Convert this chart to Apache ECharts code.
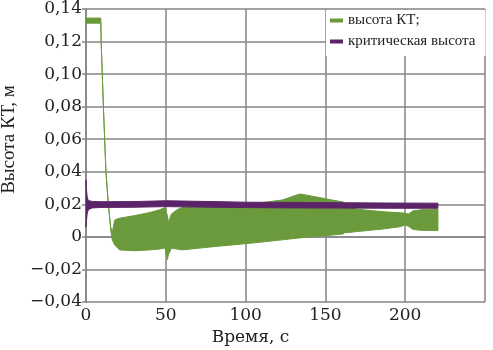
<!DOCTYPE html>
<html>
<head>
<meta charset="utf-8">
<script src="https://cdn.jsdelivr.net/npm/echarts@6/dist/echarts.min.js"></script>
<style>
  html, body { margin: 0; padding: 0; background: #fff; }
  #chart { width: 493px; height: 350px; }
</style>
</head>
<body>
<div id="chart"></div>
<script>
// время, с — огибающие колебаний высоты КТ
const greenTime  = [0, 9.3, 9.5, 10.9, 12.5, 14, 15.5, 16.5, 18, 21, 30, 40, 46, 49.5, 51, 51.6, 53.5, 57, 60, 70, 80, 96.5, 110, 123, 134, 144.5, 155, 161, 162, 164.5, 170, 186, 197, 200, 202, 205, 211, 216, 220.5]
const greenUpper = [0.1344, 0.1344, 0.120, 0.080, 0.040, 0.020, 0.006, 0.003, 0.0104, 0.0115, 0.013, 0.015, 0.0166, 0.018, 0.013, 0.009, 0.014, 0.0166, 0.018, 0.0185, 0.019, 0.0207, 0.021, 0.0227, 0.0264, 0.0245, 0.0225, 0.0215, 0.021, 0.019, 0.017, 0.0155, 0.0148, 0.0146, 0.0140, 0.016, 0.0168, 0.017, 0.0172]
const greenLower = [0.1313, 0.1313, 0.120, 0.080, 0.040, 0.020, 0.004, -0.002, -0.005, -0.008, -0.0085, -0.008, -0.0075, -0.0068, -0.014, -0.011, -0.007, -0.0075, -0.008, -0.007, -0.006, -0.0045, -0.0032, -0.0018, -0.0006, 0.0004, 0.0012, 0.0018, 0.0025, 0.0027, 0.0033, 0.0048, 0.0063, 0.0074, 0.0065, 0.0045, 0.004, 0.004, 0.0039]

// критическая высота
const purpleTime  = [0, 0.3, 0.7, 1.2, 2, 4, 10, 30, 50, 80, 100, 130, 160, 190, 220.5]
const purpleUpper = [0.035, 0.029, 0.025, 0.023, 0.0222, 0.0218, 0.0216, 0.0217, 0.0222, 0.0217, 0.0213, 0.0212, 0.021, 0.0208, 0.0207]
const purpleLower = [0.006, 0.010, 0.014, 0.016, 0.017, 0.0178, 0.0181, 0.0182, 0.0186, 0.0182, 0.018, 0.0178, 0.0177, 0.0176, 0.0176]

const seriesNames = ['высота КТ;', 'критическая высота']
const xTitle = 'Время, с'
const yTitle = 'Высота КТ, м'

const GREEN = '#6b9a3c'
const PURPLE = '#5c2468'
const GRID = '#858585'

const chart = echarts.init(document.getElementById('chart'))

// полоса между верхней и нижней огибающей
function bandSeries (name, t, up, lo, color, z) {
  return {
    name: name,
    type: 'custom',
    z: z,
    itemStyle: { color: color },
    data: [[t[0], up[0]]],
    renderItem: (params, api) => {
      const pts = []
      for (let i = 0; i < t.length; i++) pts.push(api.coord([t[i], up[i]]))
      for (let i = t.length - 1; i >= 0; i--) pts.push(api.coord([t[i], lo[i]]))
      return {
        type: 'polygon',
        shape: { points: pts },
        style: { fill: color, stroke: color, lineWidth: 1 }
      }
    }
  }
}

const option = {
  animation: false,
  grid: { left: 86, right: 8, top: 9, bottom: 48, outerBoundsMode: 'none', containLabel: false },
  legend: {
    data: seriesNames,
    orient: 'vertical',
    left: 326,
    top: 10,
    padding: [3, 10, 7, 4],
    backgroundColor: '#fff',
    itemGap: 6,
    itemWidth: 13,
    itemHeight: 4,
    icon: 'rect',
    textStyle: { fontFamily: 'Liberation Serif', fontSize: 15, color: '#222' }
  },
  xAxis: {
    type: 'value',
    min: 0,
    max: 250,
    interval: 50,
    name: xTitle,
    nameLocation: 'middle',
    nameGap: 25,
    nameTextStyle: { fontFamily: 'DejaVu Serif', fontSize: 17, color: '#222', padding: [0, 70, 0, 0] },
    axisLine: { lineStyle: { color: GRID, width: 1.5 } },
    axisTick: { show: false },
    axisLabel: { showMaxLabel: false, margin: 5, fontFamily: 'DejaVu Serif', fontSize: 17, color: '#222' },
    splitLine: { show: true, lineStyle: { color: GRID, width: 1.5 } }
  },
  yAxis: {
    type: 'value',
    min: -0.04,
    max: 0.14,
    interval: 0.02,
    name: yTitle,
    nameLocation: 'middle',
    nameGap: 66,
    nameTextStyle: { fontFamily: 'Liberation Serif', fontSize: 19, color: '#222', padding: [0, 0, 0, 32] },
    axisLine: { show: true, lineStyle: { color: GRID, width: 1.5 } },
    axisTick: { show: true, length: 4, lineStyle: { color: GRID, width: 1.5 } },
    axisLabel: {
      margin: 4,
      fontFamily: 'DejaVu Serif',
      fontSize: 17,
      color: '#222',
      formatter: (v) => {
        if (Math.abs(v) < 1e-9) return '0'
        return v.toFixed(2).replace('.', ',').replace('-', '\u2212')
      }
    },
    splitLine: { show: true, lineStyle: { color: GRID, width: 1.5 } }
  },
  series: [
    bandSeries(seriesNames[0], greenTime, greenUpper, greenLower, GREEN, 2),
    bandSeries(seriesNames[1], purpleTime, purpleUpper, purpleLower, PURPLE, 3)
  ]
}
chart.setOption(option)
</script>
</body>
</html>
